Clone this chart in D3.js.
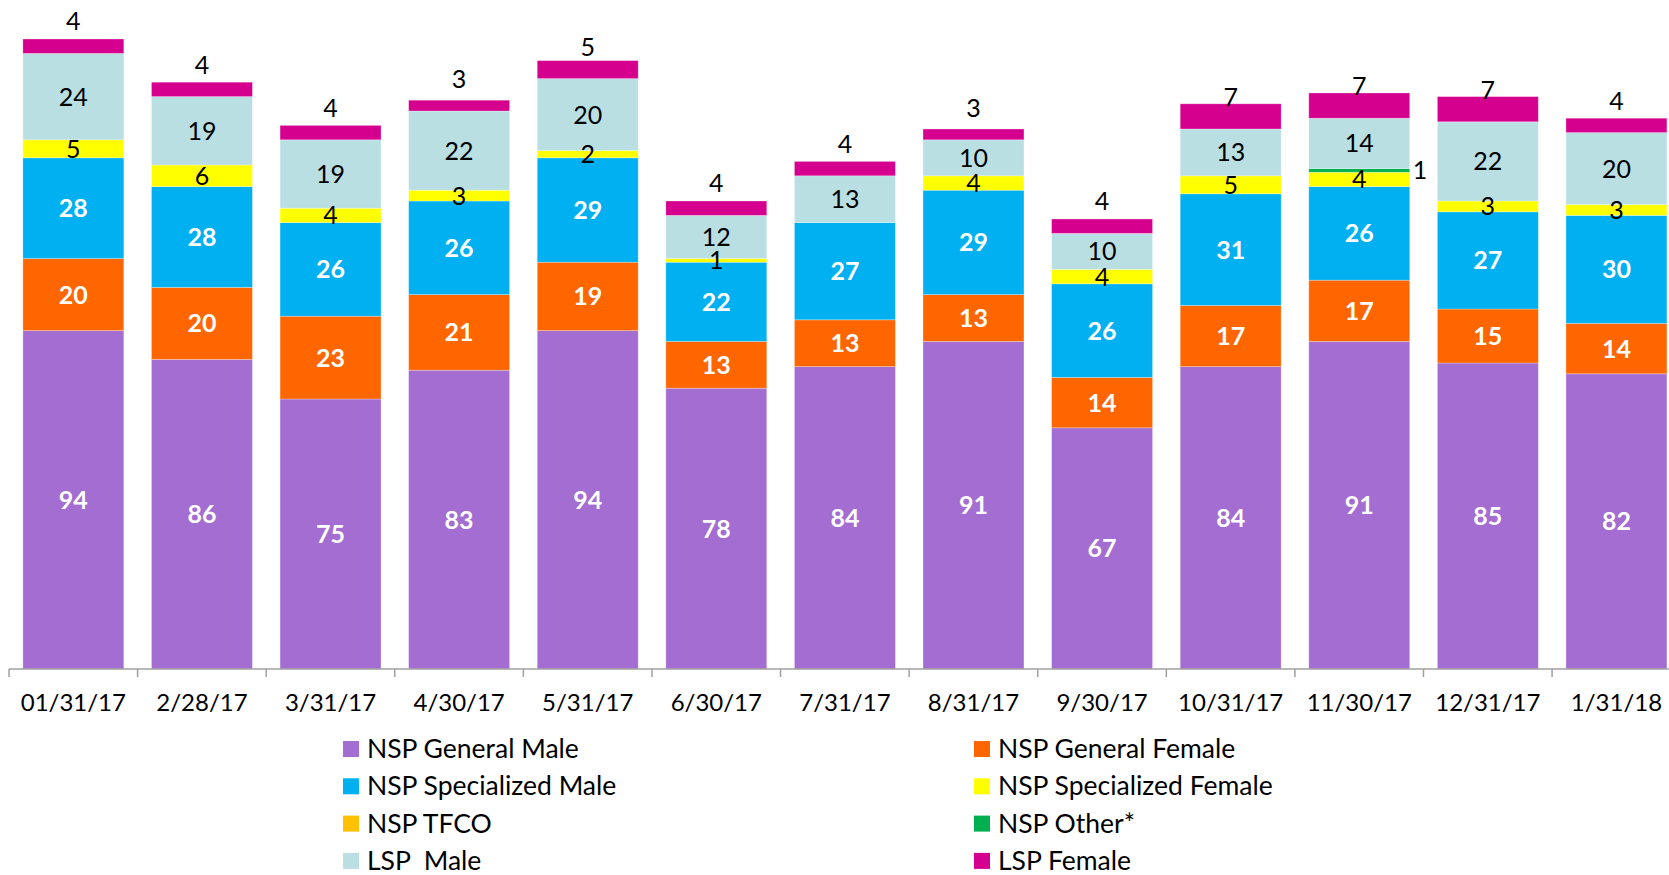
<!DOCTYPE html>
<html>
<head>
<meta charset="utf-8">
<script src="https://cdn.jsdelivr.net/npm/d3@7"></script>
<style>
  body { margin: 0; background: #fff; }
  svg text { font-family: Lato, "Open Sans", sans-serif; white-space: pre; }
</style>
</head>
<body>
<svg id="chart"></svg>
<script>
const W = 1669, H = 875;

// data
const dates = ['01/31/17', '2/28/17', '3/31/17', '4/30/17', '5/31/17', '6/30/17', '7/31/17',
               '8/31/17', '9/30/17', '10/31/17', '11/30/17', '12/31/17', '1/31/18'];
const nspGeneralMale     = [94, 86, 75, 83, 94, 78, 84, 91, 67, 84, 91, 85, 82];
const nspGeneralFemale   = [20, 20, 23, 21, 19, 13, 13, 13, 14, 17, 17, 15, 14];
const nspSpecMale        = [28, 28, 26, 26, 29, 22, 27, 29, 26, 31, 26, 27, 30];
const nspSpecFemale      = [5, 6, 4, 3, 2, 1, 0, 4, 4, 5, 4, 3, 3];
const nspTfco            = [0, 0, 0, 0, 0, 0, 0, 0, 0, 0, 0, 0, 0];
const nspOther           = [0, 0, 0, 0, 0, 0, 0, 0, 0, 0, 1, 0, 0];
const lspMale            = [24, 19, 19, 22, 20, 12, 13, 10, 10, 13, 14, 22, 20];
const lspFemale          = [4, 4, 4, 3, 5, 4, 4, 3, 4, 7, 7, 7, 4];

const series = [
  { key: 'NSP General Male',       values: nspGeneralMale,   color: '#A46DD1', label: 'white' },
  { key: 'NSP General Female',     values: nspGeneralFemale, color: '#FF6600', label: 'white' },
  { key: 'NSP Specialized Male',   values: nspSpecMale,      color: '#00B0F0', label: 'white' },
  { key: 'NSP Specialized Female', values: nspSpecFemale,    color: '#FFFF00', label: 'black' },
  { key: 'NSP TFCO',               values: nspTfco,          color: '#FFC000', label: 'black' },
  { key: 'NSP Other*',             values: nspOther,         color: '#00B050', label: 'side' },
  { key: 'LSP  Male',              values: lspMale,          color: '#BADFE3', label: 'black' },
  { key: 'LSP Female',             values: lspFemale,        color: '#D6008F', label: 'top' }
];

const rows = dates.map((d, i) => {
  let r = { date: d };
  series.forEach(s => { r[s.key] = s.values[i]; });
  return r;
});

const svg = d3.select('#chart').attr('width', W).attr('height', H);

const step = 128.6;
const x = d3.scaleBand()
  .domain(dates)
  .range([9, 9 + step * dates.length])
  .paddingInner(0.215)
  .paddingOuter(0.108);

const y = d3.scaleLinear()
  .domain([0, 180])
  .range([669, 21]);

const stack = d3.stack().keys(series.map(s => s.key));
const stacked = stack(rows);

const layers = svg.append('g').selectAll('g')
  .data(stacked)
  .enter()
  .append('g')
  .attr('fill', (d, i) => series[i].color);

layers.selectAll('rect')
  .data(d => d)
  .enter()
  .append('rect')
  .attr('x', d => x(d.data.date))
  .attr('width', x.bandwidth())
  .attr('y', d => y(d[1]))
  .attr('height', d => y(d[0]) - y(d[1]))
  .attr('stroke', 'rgba(255,255,255,0.35)')
  .attr('stroke-width', 0.8);

// value labels
stacked.forEach((layer, i) => {
  let s = series[i];
  let g = svg.append('g');
  layer.forEach(d => {
    let v = d[1] - d[0];
    if (v === 0) return;
    let cx = x(d.data.date) + x.bandwidth() / 2;
    let cy = (y(d[0]) + y(d[1])) / 2;
    let t = g.append('text')
      .attr('x', cx)
      .attr('y', cy)
      .attr('dy', '0.36em')
      .attr('text-anchor', 'middle')
      .style('font-size', '25px')
      .text(v);
    if (s.label === 'white') {
      t.attr('fill', '#fff').style('font-weight', 'bold');
    } else if (s.label === 'side') {
      t.attr('x', x(d.data.date) + x.bandwidth() + 3).attr('text-anchor', 'start').attr('fill', '#000');
    } else if (s.label === 'top') {
      t.attr('y', y(d[0]) - 32).attr('fill', '#000');
    } else {
      t.attr('fill', '#000');
    }
  });
});

// x axis
const axisY = y(0);
const axis = svg.append('g');
axis.append('line')
  .attr('x1', 9).attr('x2', 1669)
  .attr('y1', axisY).attr('y2', axisY)
  .attr('stroke', '#A0A0A0').attr('stroke-width', 1.5);

d3.range(dates.length + 1).forEach(i => {
  let tx = 9 + i * x.step();
  axis.append('line')
    .attr('x1', tx).attr('x2', tx)
    .attr('y1', axisY).attr('y2', axisY + 8)
    .attr('stroke', '#A0A0A0').attr('stroke-width', 1.5);
});

axis.selectAll('.tick-label')
  .data(dates)
  .enter()
  .append('text')
  .attr('class', 'tick-label')
  .attr('x', d => x(d) + x.bandwidth() / 2)
  .attr('y', 711)
  .attr('text-anchor', 'middle')
  .attr('fill', '#000')
  .style('font-size', '24px')
  .text(d => d);

// legend, two columns
const legend = svg.append('g');
const colX = [343, 974];
const rowY0 = 749, rowGap = 37.3;
series.forEach((s, i) => {
  let lx = colX[i % 2];
  let ly = rowY0 + Math.floor(i / 2) * rowGap;
  legend.append('rect')
    .attr('x', lx).attr('y', ly - 8)
    .attr('width', 16).attr('height', 16)
    .attr('fill', s.color);
  legend.append('text')
    .attr('x', lx + 24).attr('y', ly)
    .attr('dy', '0.34em')
    .attr('fill', '#000')
    .style('font-size', '26.5px')
    .text(s.key);
});
</script>
</body>
</html>
